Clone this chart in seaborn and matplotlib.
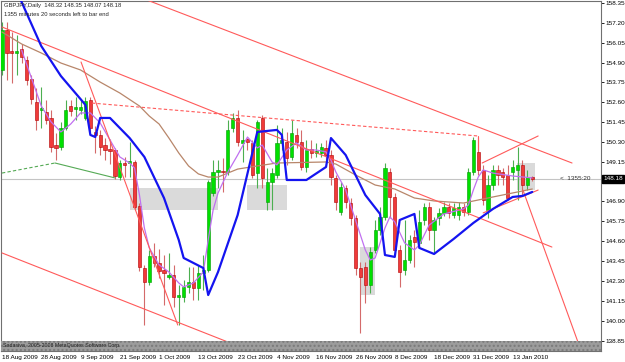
import numpy as np
import matplotlib
matplotlib.use("Agg")
import matplotlib.pyplot as plt
from matplotlib.patches import Rectangle
import seaborn as sns

# GBPJPY daily bars, 18 Aug 2009 .. 19 Jan 2010
opens = [154.47, 156.78, 155.56, 155.45, 155.68, 155.04, 153.95, 152.62, 152.16, 152.04,
         151.70, 150.14, 150.02, 151.12, 152.39, 152.22, 152.16, 151.70, 152.74, 150.89,
         150.72, 150.14, 149.91, 149.85, 148.29, 149.10, 149.10, 149.16, 146.62, 143.04,
         142.24, 143.73, 143.33, 142.93, 142.52, 142.64, 141.37, 141.37, 141.95, 142.24,
         141.89, 142.75, 142.93, 147.37, 148.58, 148.64, 148.58, 151.12, 151.70, 150.26,
         150.49, 150.26, 148.52, 151.70, 146.85, 148.00, 148.41, 150.26, 150.31, 149.45,
         150.72, 150.31, 148.87, 149.91, 149.68, 149.68, 149.97, 149.56, 148.24, 146.27,
         147.66, 146.79, 145.93, 143.04, 143.10, 142.06, 144.08, 145.24, 145.99, 148.58,
         147.14, 144.08, 142.93, 143.50, 144.83, 144.49, 145.81, 146.56, 145.24, 145.93,
         146.22, 146.56, 146.10, 146.10, 146.56, 146.27, 148.58, 149.74, 148.70, 146.39,
         147.83, 148.70, 148.58, 148.41, 148.58, 148.70, 148.99, 147.83, 148.32]
highs = [157.24, 157.24, 156.66, 156.49, 155.97, 155.27, 154.18, 153.43, 153.49, 152.74,
         152.16, 150.83, 151.47, 152.74, 152.74, 152.91, 152.74, 152.91, 152.91, 151.24,
         151.01, 150.54, 150.49, 149.97, 149.27, 149.45, 150.31, 149.27, 146.79, 143.22,
         144.08, 144.49, 144.14, 143.79, 143.91, 143.22, 142.06, 142.35, 143.10, 143.10,
         143.22, 143.79, 148.12, 149.27, 149.27, 149.39, 151.58, 151.99, 152.16, 151.01,
         150.54, 150.43, 151.58, 151.87, 148.81, 148.81, 151.29, 151.12, 150.89, 151.58,
         151.12, 151.01, 150.43, 150.43, 150.26, 150.26, 150.43, 149.85, 148.41, 148.00,
         147.83, 147.08, 146.10, 143.39, 143.39, 144.25, 145.81, 146.56, 149.10, 148.81,
         147.37, 144.37, 145.81, 144.95, 145.24, 146.39, 146.79, 146.85, 145.99, 146.50,
         146.85, 146.79, 146.79, 146.85, 146.79, 148.81, 150.60, 150.60, 148.99, 148.41,
         148.99, 148.99, 148.81, 148.99, 149.27, 150.02, 149.27, 148.70, 148.35]
lows = [154.18, 153.89, 153.72, 154.18, 154.87, 153.60, 152.51, 151.01, 151.12, 151.35,
        149.74, 149.27, 149.85, 151.01, 151.81, 151.58, 151.93, 151.58, 150.89, 149.68,
        149.56, 149.27, 149.04, 148.18, 148.12, 148.29, 148.29, 146.39, 142.87, 139.75,
        142.06, 143.10, 142.47, 140.91, 142.41, 140.79, 139.75, 141.08, 141.60, 141.20,
        141.20, 141.77, 142.81, 147.20, 147.66, 147.43, 148.41, 150.89, 150.08, 149.16,
        149.85, 148.24, 147.66, 147.66, 146.39, 146.39, 148.24, 149.85, 148.99, 149.27,
        149.97, 148.70, 148.58, 149.39, 149.45, 149.45, 149.27, 147.83, 146.39, 146.10,
        146.50, 145.52, 142.64, 139.29, 141.02, 141.60, 143.91, 144.95, 145.81, 145.93,
        143.79, 141.95, 142.64, 143.33, 143.10, 144.20, 145.52, 144.66, 143.91, 145.52,
        146.04, 145.93, 145.93, 145.81, 146.04, 146.10, 148.41, 148.41, 146.68, 145.93,
        147.54, 147.83, 147.83, 146.97, 148.12, 146.97, 147.25, 147.54, 148.07]
closes = [156.78, 155.45, 155.45, 155.56, 155.22, 153.89, 152.79, 151.58, 152.27, 151.58,
          150.02, 149.97, 151.12, 152.16, 152.10, 152.33, 152.33, 152.68, 151.12, 150.72,
          150.02, 149.85, 149.79, 148.35, 149.10, 148.99, 149.22, 146.56, 143.10, 142.24,
          143.73, 143.33, 142.87, 142.75, 142.64, 141.37, 141.48, 141.95, 142.24, 141.89,
          142.75, 142.93, 148.00, 148.58, 148.70, 148.58, 151.01, 151.70, 150.31, 150.43,
          150.31, 148.41, 151.47, 148.24, 148.00, 148.52, 150.26, 150.43, 149.39, 150.83,
          150.31, 148.87, 149.85, 149.68, 149.79, 150.02, 149.56, 148.29, 146.85, 147.72,
          146.85, 145.93, 143.04, 142.52, 142.06, 143.97, 145.24, 145.99, 148.81, 147.14,
          144.08, 142.81, 143.50, 144.66, 144.54, 145.70, 146.56, 145.24, 145.81, 146.22,
          146.56, 146.22, 146.50, 146.56, 146.27, 148.58, 150.43, 148.70, 146.97, 147.83,
          148.70, 148.41, 148.29, 147.08, 148.87, 148.99, 147.83, 148.29, 148.18]

date_labels = ["18 Aug 2009", "28 Aug 2009", "9 Sep 2009", "21 Sep 2009", "1 Oct 2009",
               "13 Oct 2009", "23 Oct 2009", "4 Nov 2009", "16 Nov 2009", "26 Nov 2009",
               "8 Dec 2009", "18 Dec 2009", "31 Dec 2009", "13 Jan 2010"]
price_ticks = [158.35, 157.20, 156.05, 154.90, 153.75, 152.60, 151.45, 150.30, 149.15,
               146.90, 145.75, 144.60, 143.45, 142.30, 141.15, 140.00, 138.85]

# indicator lines: (bar, price) vertices
blue_bar = [3, 4, 8, 12, 16, 17, 18, 19, 20, 22, 26, 29, 33, 36, 37, 41, 42, 44, 48, 52,
            56, 57, 58, 62, 66, 67, 70, 74, 77, 78, 80, 81, 84, 85, 88, 92, 96, 100, 104,
            106, 108]
blue_val = [159.08, 158.39, 155.85, 154.12, 152.79, 152.45, 150.72, 150.60, 151.70, 151.70,
            150.54, 149.45, 147.08, 144.66, 143.62, 143.04, 141.48, 142.81, 146.10, 150.89,
            151.01, 150.72, 148.12, 148.12, 148.87, 150.54, 149.56, 147.25, 146.16, 143.79,
            143.68, 145.81, 146.16, 144.20, 143.85, 144.72, 145.64, 146.45, 147.14, 147.20,
            147.43]
purple_bar = [4, 6, 8, 10, 12, 14, 16, 18, 20, 22, 24, 26, 27, 28, 29, 30, 32, 34, 36, 37,
              39, 41, 42, 43, 44, 46, 48, 50, 52, 53, 55, 56, 58, 60, 62, 64, 66, 67, 68,
              70, 72, 74, 75, 76, 78, 79, 80, 82, 84, 85, 87, 90, 94, 95, 96, 97, 98, 100,
              104, 108]
purple_val = [155.62, 154.01, 152.39, 151.47, 150.89, 151.35, 151.99, 151.99, 151.41, 150.43,
              149.45, 149.10, 148.81, 147.25, 145.35, 144.20, 143.22, 142.81, 142.18, 141.95,
              142.18, 142.81, 144.66, 146.39, 147.37, 148.58, 149.56, 150.60, 149.97, 150.14,
              149.16, 148.99, 149.85, 150.26, 149.85, 149.85, 149.74, 149.27, 148.58, 147.54,
              145.81, 144.08, 143.50, 143.62, 145.35, 145.99, 145.70, 144.49, 144.08, 144.37,
              145.52, 146.16, 146.45, 146.68, 147.54, 148.29, 148.70, 148.52, 148.35, 148.24]
brown_bar = [0, 4, 8, 12, 16, 20, 24, 28, 30, 32, 34, 36, 38, 40, 42, 44, 48, 52, 56, 66,
             68, 72, 76, 80, 84, 88, 94, 100, 108]
brown_val = [156.66, 155.97, 155.45, 154.87, 154.47, 153.77, 153.14, 152.39, 151.81, 151.35,
             150.54, 149.68, 148.93, 148.47, 148.29, 148.29, 148.75, 148.93, 149.10, 149.16,
             149.04, 148.41, 147.83, 147.60, 147.08, 146.91, 146.79, 147.14, 147.60]

# hand-drawn objects (bar, price)
red_lines = [((29.5, 158.51), (116.1, 149.10)),
             ((0.0, 156.95), (112.0, 144.25)),
             ((0.0, 143.91), (46.0, 138.77)),
             ((16.1, 154.93), (35.8, 139.75)),
             ((97.8, 149.10), (109.2, 150.66)),
             ((98.0, 146.22), (109.2, 147.54)),
             ((106.1, 147.54), (117.3, 138.77)),
             ((96.9, 150.66), (96.9, 149.85))]
dashed_line = ((18.3, 152.56), (96.9, 150.66))
green_dashed = ((0.0, 148.52), (10.8, 149.10))
green_solid = ((10.8, 149.10), (23.0, 148.24))
boxes = [(26.1, 44.0, 146.39, 147.66), (49.9, 58.0, 146.39, 147.83),
         (72.9, 76.0, 141.48, 144.25), (104.9, 108.6, 147.54, 149.10)]
last_price = 148.18

sns.set_style("white")
plt.rcParams['font.family'] = ['Liberation Sans', 'DejaVu Sans']

fig = plt.figure(figsize=(6.25, 3.62), dpi=100)
ax = fig.add_axes([1 / 625, 11 / 362, 600 / 625, 350 / 362])

o = np.array(opens); h = np.array(highs); l = np.array(lows); c = np.array(closes)
x = np.arange(len(o))
up = c >= o

for x0, x1, y0, y1 in boxes:
    ax.add_patch(Rectangle((x0, y0), x1 - x0, y1 - y0, facecolor="#dadada",
                           edgecolor="none", zorder=0.5))
ax.axhline(last_price, color="#c4c4c4", lw=0.8, zorder=0.6)

# candles
ax.vlines(x[up], l[up], h[up], color="#4caf50", lw=0.8, zorder=2)
ax.vlines(x[~up], l[~up], h[~up], color="#d46a6a", lw=0.8, zorder=2)
body_h = np.maximum(np.abs(c - o), 0.06)
body_b = np.minimum(o, c)
ax.bar(x[up], body_h[up], bottom=body_b[up], width=0.66, color="#00e000",
       edgecolor="#009a00", linewidth=0.4, zorder=3)
ax.bar(x[~up], body_h[~up], bottom=body_b[~up], width=0.66, color="#f03a3a",
       edgecolor="#b00000", linewidth=0.4, zorder=3)

# moving averages
sns.lineplot(x=brown_bar, y=brown_val, ax=ax, color="#b8866a", lw=0.9,
             estimator=None, sort=False, zorder=4)
sns.lineplot(x=purple_bar, y=purple_val, ax=ax, color="#c070f0", lw=0.9,
             estimator=None, sort=False, zorder=4)
sns.lineplot(x=blue_bar, y=blue_val, ax=ax, color="#1414f0", lw=1.6,
             estimator=None, sort=False, zorder=5)

# trend lines
for (xa, ya), (xb, yb) in red_lines:
    ax.plot([xa, xb], [ya, yb], color="#ff5a5a", lw=0.8, zorder=4)
(xa, ya), (xb, yb) = dashed_line
ax.plot([xa, xb], [ya, yb], color="#ff5a5a", lw=0.8, ls=(0, (3, 2)), zorder=4)
(xa, ya), (xb, yb) = green_dashed
ax.plot([xa, xb], [ya, yb], color="#55aa55", lw=0.8, ls=(0, (3, 2)), zorder=4)
(xa, ya), (xb, yb) = green_solid
ax.plot([xa, xb], [ya, yb], color="#55aa55", lw=0.8, zorder=4)

ax.set_xlim(-0.2, 122.0)
ax.set_ylim(138.25, 158.45)

ax.yaxis.tick_right()
ax.set_yticks(price_ticks)
ax.set_yticklabels([f"{v:.2f}" for v in price_ticks])
ax.tick_params(axis="y", direction="out", length=2, width=0.6, pad=1.5,
               labelsize=4.6, colors="black")
ax.set_xticks(range(0, 8 * len(date_labels), 8))
ax.set_xticklabels(date_labels, ha="left")
ax.tick_params(axis="x", direction="out", length=2, width=0.6, pad=1,
               labelsize=4.6, colors="black")
ax.set_xlabel("")
ax.set_ylabel("")
for s in ax.spines.values():
    s.set_color("#707070")
    s.set_linewidth(0.8)

# bottom status band
ax.add_patch(Rectangle((0, 0), 1, 10 / 350, transform=ax.transAxes, facecolor="#9c9c9c",
                       edgecolor="#7a7a7a", hatch="....", lw=0, zorder=6))
ax.text(0.004, 5 / 350, "Sadasiva, 2005-2008 MetaQuotes Software Corp.",
        transform=ax.transAxes, fontsize=3.8, va="center", color="#202020", zorder=7)

# header and price markers
ax.text(3 / 600, 1 - 2 / 350, "GBPJPY,Daily  148.32 148.35 148.07 148.18",
        transform=ax.transAxes, fontsize=4.2, va="top", ha="left", zorder=7)
ax.text(3 / 600, 1 - 11 / 350, "1355 minutes 20 seconds left to bar end",
        transform=ax.transAxes, fontsize=4.2, va="top", ha="left", zorder=7)
ax.text(113.6, last_price, "<  1355:20", fontsize=4.6, va="center", ha="left",
        color="#303030", zorder=7)
ax.text(1.004, last_price, f"{last_price:.2f}", transform=ax.get_yaxis_transform(),
        fontsize=4.6, va="center", ha="left", color="white", clip_on=False,
        bbox=dict(facecolor="black", edgecolor="black", pad=0.8), zorder=8)

fig.savefig("out.png", dpi=100)
